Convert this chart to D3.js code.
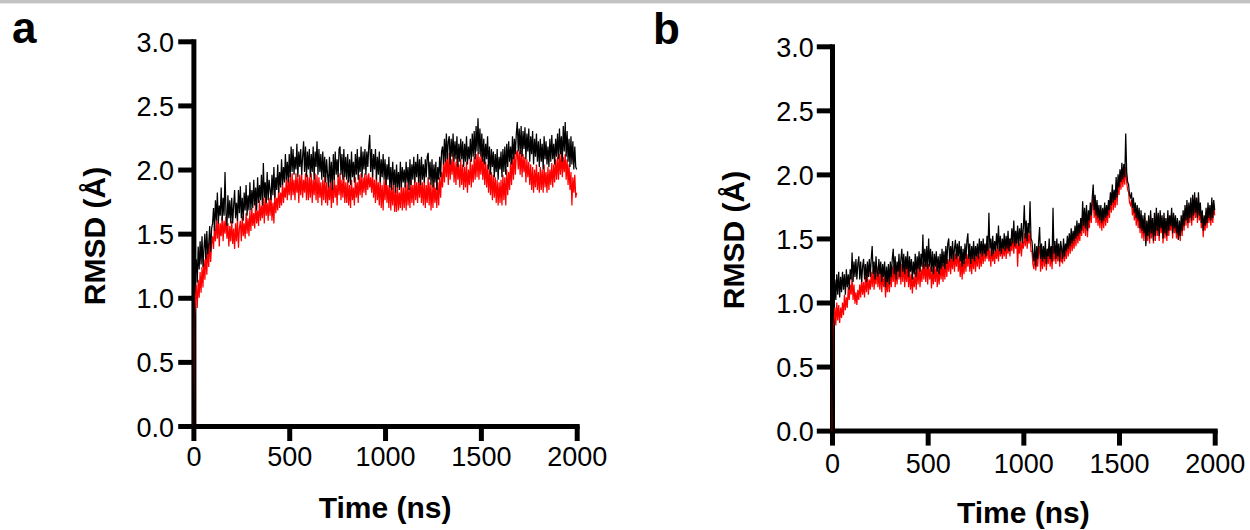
<!DOCTYPE html>
<html>
<head>
<meta charset="utf-8">
<script src="https://cdn.jsdelivr.net/npm/d3@7"></script>
<style>
  html, body { margin: 0; padding: 0; background: #fff; }
  svg { display: block; }
</style>
</head>
<body>
<div id="app"></div>
<script>
// one value every 5 ns, one row = 100 ns
const timeStepNs = 5;

const yTicks = [0.0, 0.5, 1.0, 1.5, 2.0, 2.5, 3.0];
const xTicks = [0, 500, 1000, 1500, 2000];

// panel a
const blackA = [
    0.00, 1.02, 1.18, 1.30, 1.12, 1.40, 1.22, 1.44, 1.26, 1.48, 1.24, 1.38, 1.50, 1.30, 1.52, 1.34, 1.42, 1.56, 1.36, 1.54,
    1.58, 1.70, 1.52, 1.76, 1.60, 1.82, 1.58, 1.72, 1.64, 1.86, 1.60, 1.78, 1.64, 1.98, 1.66, 1.56, 1.80, 1.62, 1.76, 1.58,
    1.78, 1.58, 1.72, 1.84, 1.62, 1.74, 1.60, 1.84, 1.66, 1.87, 1.62, 1.78, 1.60, 1.82, 1.68, 1.88, 1.64, 1.80, 1.68, 1.90,
    1.68, 1.84, 1.70, 1.92, 1.72, 1.86, 1.68, 1.94, 1.74, 1.88, 1.76, 1.96, 1.72, 2.05, 1.78, 1.90, 1.74, 1.98, 1.76, 1.92,
    1.84, 1.76, 1.96, 1.80, 2.02, 1.78, 1.94, 1.84, 2.04, 1.82, 1.98, 1.86, 2.08, 1.88, 2.02, 1.90, 2.12, 1.92, 2.06, 1.90,
    2.12, 1.94, 2.18, 1.98, 2.16, 1.96, 2.10, 2.00, 2.20, 1.94, 2.14, 2.02, 2.16, 1.96, 2.10, 2.22, 1.98, 2.18, 1.94, 2.14,
    2.00, 2.16, 1.94, 2.12, 1.98, 2.18, 1.92, 2.14, 2.02, 2.22, 1.96, 2.16, 1.98, 2.12, 1.92, 2.14, 1.94, 2.10, 1.90, 2.08,
    1.96, 1.86, 2.10, 1.90, 2.06, 1.84, 2.12, 1.92, 2.14, 1.96, 2.08, 1.94, 2.16, 2.18, 1.96, 2.12, 1.92, 2.16, 1.94, 2.10,
    1.92, 2.12, 1.90, 2.08, 1.88, 2.14, 1.94, 2.06, 1.90, 2.12, 1.96, 2.16, 1.92, 2.10, 1.98, 2.18, 1.94, 2.14, 2.00, 2.16,
    1.96, 2.14, 2.02, 2.18, 2.27, 1.98, 2.16, 1.94, 2.12, 2.00, 2.16, 1.92, 2.10, 1.96, 2.14, 1.90, 2.08, 1.94, 2.12, 1.92,
    2.08, 1.88, 2.04, 1.92, 2.10, 1.86, 2.02, 1.84, 2.06, 1.88, 2.00, 1.82, 2.04, 1.86, 1.98, 1.84, 2.06, 1.86, 2.02, 1.90,
    2.00, 1.86, 2.06, 1.90, 2.02, 1.84, 2.08, 1.88, 2.04, 1.92, 2.10, 1.90, 2.06, 1.94, 2.12, 1.90, 2.08, 1.88, 2.10, 1.92,
    2.04, 1.90, 2.08, 1.94, 2.10, 2.13, 1.92, 2.06, 1.88, 2.08, 1.86, 2.04, 1.90, 2.06, 1.84, 2.02, 1.92, 2.10, 1.94, 2.14,
    2.18, 2.04, 2.24, 2.06, 2.28, 2.08, 2.22, 2.26, 2.04, 2.24, 2.10, 2.28, 2.06, 2.22, 2.08, 2.26, 2.02, 2.20, 2.06, 2.24,
    2.08, 2.22, 2.02, 2.20, 2.06, 2.26, 2.04, 2.18, 2.08, 2.24, 2.06, 2.28, 2.10, 2.30, 2.08, 2.34, 2.14, 2.40, 2.12, 2.32,
    2.10, 2.28, 2.06, 2.24, 2.04, 2.20, 2.08, 2.26, 2.00, 2.18, 1.96, 2.16, 2.02, 2.14, 1.94, 2.12, 1.98, 2.16, 1.92, 2.10,
    2.00, 2.14, 1.94, 2.16, 1.98, 2.18, 1.96, 2.20, 2.02, 2.22, 2.06, 2.18, 2.04, 2.26, 2.08, 2.24, 2.12, 2.28, 2.37, 2.14,
    2.32, 2.12, 2.34, 2.10, 2.30, 2.16, 2.33, 2.08, 2.28, 2.14, 2.32, 2.06, 2.26, 2.12, 2.30, 2.04, 2.24, 2.10, 2.28, 2.06,
    2.22, 2.02, 2.24, 2.06, 2.20, 2.00, 2.26, 2.08, 2.22, 2.04, 2.18, 2.02, 2.24, 2.06, 2.27, 2.08, 2.20, 2.04, 2.24, 2.10,
    2.28, 2.08, 2.32, 2.12, 2.26, 2.06, 2.34, 2.14, 2.37, 2.10, 2.30, 2.06, 2.24, 2.02, 2.26, 2.04, 2.22, 2.00, 2.18, 2.02,
    2.00
];
const redA = [
    0.00, 0.84, 0.96, 1.10, 0.92, 1.14, 1.00, 1.20, 1.04, 1.24, 1.08, 1.30, 1.14, 1.36, 1.18, 1.40, 1.24, 1.44, 1.28, 1.42,
    1.48, 1.38, 1.56, 1.44, 1.60, 1.46, 1.62, 1.40, 1.58, 1.48, 1.63, 1.44, 1.60, 1.50, 1.63, 1.46, 1.58, 1.40, 1.56, 1.44,
    1.60, 1.42, 1.54, 1.38, 1.58, 1.44, 1.62, 1.39, 1.54, 1.60, 1.44, 1.64, 1.48, 1.58, 1.46, 1.66, 1.50, 1.62, 1.48, 1.68,
    1.52, 1.70, 1.56, 1.66, 1.54, 1.74, 1.58, 1.68, 1.56, 1.76, 1.60, 1.72, 1.62, 1.78, 1.58, 1.80, 1.64, 1.74, 1.60, 1.78,
    1.64, 1.80, 1.60, 1.74, 1.58, 1.82, 1.66, 1.78, 1.68, 1.86, 1.70, 1.82, 1.72, 1.90, 1.74, 1.86, 1.78, 1.94, 1.76, 1.92,
    1.80, 1.96, 1.76, 1.97, 1.80, 1.92, 1.76, 1.97, 1.82, 1.94, 1.74, 1.96, 1.80, 1.97, 1.78, 1.92, 1.82, 1.97, 1.76, 1.96,
    1.76, 1.94, 1.78, 1.97, 1.74, 1.92, 1.80, 1.97, 1.76, 1.96, 1.74, 1.94, 1.78, 1.90, 1.72, 1.92, 1.76, 1.96, 1.74, 1.90,
    1.72, 1.88, 1.76, 1.92, 1.70, 1.90, 1.74, 1.94, 1.78, 1.88, 1.72, 1.96, 1.80, 1.97, 1.76, 1.92, 1.78, 1.96, 1.74, 1.90,
    1.74, 1.92, 1.72, 1.88, 1.70, 1.92, 1.76, 1.86, 1.72, 1.94, 1.78, 1.90, 1.74, 1.96, 1.80, 1.97, 1.78, 1.94, 1.82, 1.97,
    1.80, 1.96, 1.84, 1.97, 1.86, 1.94, 1.82, 1.97, 1.78, 1.92, 1.74, 1.96, 1.76, 1.90, 1.72, 1.94, 1.70, 1.88, 1.68, 1.92,
    1.76, 1.94, 1.74, 1.88, 1.70, 1.92, 1.68, 1.86, 1.72, 1.90, 1.67, 1.84, 1.67, 1.88, 1.68, 1.82, 1.70, 1.90, 1.68, 1.86,
    1.70, 1.88, 1.68, 1.90, 1.72, 1.86, 1.70, 1.92, 1.74, 1.88, 1.72, 1.94, 1.76, 1.90, 1.74, 1.92, 1.78, 1.94, 1.74, 1.90,
    1.72, 1.92, 1.70, 1.88, 1.74, 1.94, 1.72, 1.90, 1.68, 1.88, 1.70, 1.92, 1.74, 1.86, 1.70, 1.90, 1.72, 1.94, 1.78, 1.98,
    1.86, 2.06, 1.90, 2.10, 1.94, 2.12, 1.88, 2.13, 1.92, 2.08, 1.96, 2.12, 1.90, 2.06, 1.88, 2.10, 1.92, 2.04, 1.86, 2.08,
    1.88, 2.04, 1.84, 2.02, 1.86, 2.06, 1.82, 2.00, 1.88, 2.08, 1.86, 2.04, 1.90, 2.10, 1.92, 2.12, 1.94, 2.14, 1.92, 2.10,
    1.96, 2.14, 1.92, 2.08, 1.88, 2.06, 1.86, 2.04, 1.82, 2.00, 1.80, 1.98, 1.76, 1.96, 1.78, 1.94, 1.74, 1.92, 1.72, 1.90,
    1.74, 1.92, 1.72, 1.96, 1.76, 1.94, 1.72, 2.00, 1.80, 1.98, 1.84, 2.06, 1.88, 2.10, 1.92, 2.14, 1.96, 2.12, 2.15, 2.00,
    2.14, 1.96, 2.15, 1.94, 2.12, 1.98, 2.10, 1.90, 2.08, 1.94, 2.06, 1.88, 2.04, 1.84, 2.02, 1.82, 2.00, 1.86, 2.04, 1.84,
    1.98, 1.82, 2.02, 1.84, 2.00, 1.82, 2.04, 1.86, 1.98, 1.82, 2.02, 1.84, 2.00, 1.88, 2.05, 1.86, 2.04, 1.90, 2.08, 1.92,
    2.10, 1.92, 2.12, 1.96, 2.14, 1.94, 2.10, 1.98, 2.12, 1.92, 2.08, 1.88, 2.04, 1.84, 1.98, 1.72, 1.94, 1.82, 1.96, 1.78,
    1.82
];

// panel b
const blackB = [
    0.00, 0.96, 1.06, 1.18, 1.02, 1.22, 1.06, 1.24, 1.04, 1.20, 1.08, 1.24, 1.10, 1.22, 1.06, 1.26, 1.12, 1.22, 1.10, 1.26,
    1.18, 1.39, 1.16, 1.32, 1.20, 1.34, 1.18, 1.30, 1.36, 1.18, 1.32, 1.16, 1.28, 1.34, 1.18, 1.30, 1.16, 1.32, 1.20, 1.34,
    1.20, 1.34, 1.44, 1.22, 1.32, 1.18, 1.36, 1.24, 1.20, 1.34, 1.22, 1.32, 1.16, 1.30, 1.20, 1.32, 1.12, 1.28, 1.16, 1.30,
    1.14, 1.32, 1.20, 1.34, 1.42, 1.22, 1.36, 1.18, 1.32, 1.24, 1.38, 1.20, 1.34, 1.42, 1.24, 1.38, 1.22, 1.36, 1.26, 1.40,
    1.20, 1.36, 1.24, 1.34, 1.18, 1.32, 1.22, 1.38, 1.20, 1.36, 1.26, 1.40, 1.24, 1.38, 1.28, 1.53, 1.26, 1.42, 1.28, 1.44,
    1.26, 1.50, 1.28, 1.42, 1.24, 1.40, 1.22, 1.38, 1.28, 1.40, 1.24, 1.36, 1.22, 1.38, 1.26, 1.42, 1.28, 1.40, 1.26, 1.44,
    1.30, 1.46, 1.50, 1.32, 1.44, 1.34, 1.48, 1.32, 1.42, 1.49, 1.34, 1.46, 1.36, 1.48, 1.32, 1.44, 1.28, 1.42, 1.30, 1.46,
    1.34, 1.48, 1.54, 1.34, 1.46, 1.30, 1.44, 1.34, 1.48, 1.32, 1.44, 1.36, 1.46, 1.34, 1.50, 1.38, 1.48, 1.36, 1.50, 1.38,
    1.46, 1.36, 1.52, 1.40, 1.70, 1.42, 1.50, 1.36, 1.52, 1.38, 1.48, 1.40, 1.54, 1.42, 1.60, 1.40, 1.52, 1.38, 1.50, 1.42,
    1.54, 1.40, 1.52, 1.42, 1.56, 1.40, 1.50, 1.44, 1.58, 1.46, 1.64, 1.44, 1.56, 1.46, 1.60, 1.44, 1.58, 1.48, 1.62, 1.46,
    1.58, 1.76, 1.50, 1.64, 1.48, 1.62, 1.54, 1.79, 1.50, 1.48, 1.38, 1.32, 1.46, 1.28, 1.44, 1.34, 1.48, 1.59, 1.34, 1.46,
    1.32, 1.44, 1.34, 1.48, 1.30, 1.42, 1.36, 1.50, 1.34, 1.44, 1.32, 1.74, 1.38, 1.48, 1.34, 1.50, 1.36, 1.46, 1.32, 1.48,
    1.42, 1.34, 1.50, 1.36, 1.46, 1.40, 1.52, 1.42, 1.54, 1.44, 1.58, 1.46, 1.56, 1.48, 1.60, 1.50, 1.64, 1.52, 1.62, 1.54,
    1.66, 1.56, 1.79, 1.60, 1.74, 1.58, 1.76, 1.56, 1.72, 1.64, 1.78, 1.68, 1.82, 1.92, 1.72, 1.84, 1.68, 1.80, 1.66, 1.76,
    1.64, 1.76, 1.62, 1.74, 1.64, 1.78, 1.66, 1.76, 1.68, 1.80, 1.72, 1.86, 1.76, 1.92, 1.78, 1.88, 1.80, 1.98, 1.82, 2.00,
    1.90, 2.04, 1.94, 2.09, 1.96, 2.08, 1.98, 2.32, 2.02, 1.94, 1.92, 1.84, 1.82, 1.86, 1.74, 1.82, 1.70, 1.78, 1.66, 1.76,
    1.64, 1.74, 1.58, 1.72, 1.56, 1.68, 1.54, 1.70, 1.44, 1.64, 1.52, 1.68, 1.50, 1.72, 1.54, 1.66, 1.48, 1.70, 1.52, 1.74,
    1.56, 1.70, 1.52, 1.72, 1.58, 1.68, 1.50, 1.70, 1.54, 1.66, 1.52, 1.72, 1.56, 1.68, 1.60, 1.74, 1.54, 1.70, 1.58, 1.68,
    1.54, 1.66, 1.49, 1.64, 1.52, 1.68, 1.56, 1.72, 1.60, 1.76, 1.64, 1.80, 1.62, 1.78, 1.66, 1.82, 1.64, 1.84, 1.68, 1.86,
    1.70, 1.82, 1.66, 1.86, 1.68, 1.78, 1.62, 1.72, 1.56, 1.68, 1.60, 1.74, 1.62, 1.78, 1.66, 1.76, 1.64, 1.82, 1.66, 1.80,
    1.72
];
const redB = [
    0.00, 0.78, 0.86, 0.96, 0.82, 1.00, 0.86, 0.98, 0.84, 0.96, 0.88, 1.00, 0.90, 1.06, 0.94, 1.04, 0.96, 1.12, 1.02, 1.14,
    1.06, 1.20, 1.02, 1.14, 0.99, 1.08, 0.98, 1.10, 1.02, 1.14, 1.04, 1.18, 1.06, 1.16, 1.04, 1.20, 1.08, 1.22, 1.06, 1.18,
    1.10, 1.24, 1.12, 1.26, 1.10, 1.22, 1.14, 1.28, 1.12, 1.24, 1.10, 1.26, 1.08, 1.22, 1.12, 1.20, 1.04, 1.18, 1.08, 1.22,
    1.08, 1.24, 1.12, 1.28, 1.16, 1.30, 1.12, 1.26, 1.14, 1.28, 1.18, 1.32, 1.14, 1.30, 1.16, 1.32, 1.12, 1.28, 1.16, 1.30,
    1.12, 1.26, 1.10, 1.22, 1.07, 1.20, 1.12, 1.24, 1.10, 1.28, 1.14, 1.30, 1.12, 1.26, 1.16, 1.32, 1.18, 1.30, 1.16, 1.32,
    1.14, 1.30, 1.18, 1.28, 1.11, 1.26, 1.14, 1.28, 1.16, 1.30, 1.12, 1.26, 1.14, 1.30, 1.18, 1.32, 1.16, 1.30, 1.18, 1.34,
    1.20, 1.34, 1.24, 1.38, 1.22, 1.36, 1.26, 1.40, 1.24, 1.38, 1.28, 1.40, 1.24, 1.36, 1.20, 1.34, 1.18, 1.32, 1.22, 1.36,
    1.24, 1.38, 1.28, 1.40, 1.24, 1.36, 1.22, 1.38, 1.26, 1.40, 1.24, 1.38, 1.28, 1.42, 1.26, 1.40, 1.28, 1.42, 1.30, 1.44,
    1.32, 1.44, 1.34, 1.46, 1.32, 1.42, 1.28, 1.44, 1.32, 1.40, 1.30, 1.42, 1.34, 1.44, 1.32, 1.46, 1.36, 1.46, 1.34, 1.44,
    1.36, 1.48, 1.34, 1.46, 1.38, 1.50, 1.36, 1.48, 1.40, 1.52, 1.38, 1.50, 1.42, 1.52, 1.28, 1.48, 1.38, 1.50, 1.36, 1.48,
    1.42, 1.54, 1.44, 1.56, 1.42, 1.54, 1.46, 1.56, 1.40, 1.40, 1.30, 1.26, 1.38, 1.25, 1.36, 1.28, 1.40, 1.44, 1.24, 1.38,
    1.26, 1.40, 1.28, 1.42, 1.25, 1.38, 1.30, 1.44, 1.28, 1.40, 1.26, 1.44, 1.32, 1.42, 1.30, 1.46, 1.32, 1.42, 1.28, 1.44,
    1.32, 1.31, 1.44, 1.32, 1.42, 1.34, 1.48, 1.36, 1.50, 1.38, 1.52, 1.40, 1.50, 1.42, 1.54, 1.44, 1.58, 1.46, 1.56, 1.48,
    1.60, 1.52, 1.70, 1.54, 1.68, 1.52, 1.70, 1.51, 1.66, 1.58, 1.72, 1.62, 1.76, 1.84, 1.66, 1.78, 1.62, 1.74, 1.60, 1.70,
    1.58, 1.72, 1.56, 1.70, 1.58, 1.74, 1.60, 1.72, 1.62, 1.76, 1.66, 1.82, 1.70, 1.88, 1.72, 1.84, 1.74, 1.92, 1.76, 1.94,
    1.84, 1.98, 1.88, 2.04, 1.90, 2.02, 1.92, 2.06, 1.94, 1.88, 1.86, 1.78, 1.76, 1.80, 1.68, 1.76, 1.64, 1.74, 1.60, 1.72,
    1.58, 1.70, 1.54, 1.68, 1.50, 1.64, 1.48, 1.66, 1.46, 1.60, 1.48, 1.64, 1.46, 1.68, 1.50, 1.62, 1.46, 1.66, 1.48, 1.70,
    1.52, 1.66, 1.48, 1.68, 1.54, 1.64, 1.46, 1.66, 1.50, 1.62, 1.48, 1.68, 1.52, 1.64, 1.56, 1.70, 1.50, 1.66, 1.54, 1.64,
    1.50, 1.62, 1.49, 1.60, 1.48, 1.64, 1.52, 1.68, 1.56, 1.72, 1.60, 1.76, 1.58, 1.74, 1.62, 1.78, 1.60, 1.80, 1.64, 1.82,
    1.66, 1.78, 1.62, 1.82, 1.64, 1.74, 1.58, 1.68, 1.51, 1.64, 1.56, 1.70, 1.58, 1.74, 1.62, 1.72, 1.60, 1.78, 1.62, 1.76,
    1.68
];

const FONT = '"Liberation Sans", Arial, Helvetica, sans-serif';
const AXIS_W = 5;
const TRACE_W = 1.25;

const panels = [
    {
        label: 'a', black: blackA, red: redA,
        left: 193.4, right: 576.7, bottom: 426.0, top: 41.3,
        labelX: 12, labelY: 43,
        yTitleX: 105, yTitleY: 236, xTitleY: 518,
        xPad: 5.7, yPad: 4.2
    },
    {
        label: 'b', black: blackB, red: redB,
        left: 832.0, right: 1214.7, bottom: 430.6, top: 46.3,
        labelX: 653, labelY: 44,
        yTitleX: 744, yTitleY: 240, xTitleY: 523,
        xPad: 8.3, yPad: 3.0
    }
];

const svg = d3.select('#app')
    .append('svg')
    .attr('width', 1250)
    .attr('height', 530)
    .style('font-family', FONT);

svg.append('rect')
    .attr('width', 1250)
    .attr('height', 530)
    .attr('fill', '#fff');

// grey rule along the top edge
svg.append('rect')
    .attr('x', 0)
    .attr('y', 0)
    .attr('width', 1250)
    .attr('height', 3.4)
    .attr('fill', '#c3c3c3');

function styleAxis(g) {
    g.attr('font-family', FONT)
        .attr('font-size', 27);
    g.select('.domain')
        .attr('stroke', '#000')
        .attr('stroke-width', AXIS_W)
        .attr('stroke-linecap', 'square');
    g.selectAll('.tick line')
        .attr('stroke', '#000')
        .attr('stroke-width', AXIS_W);
    g.selectAll('.tick text')
        .attr('fill', '#000');
}

function drawPanel(p) {
    const x = d3.scaleLinear()
        .domain([0, 2000])
        .range([p.left, p.right]);

    const y = d3.scaleLinear()
        .domain([0, 3])
        .range([p.bottom, p.top]);

    const xAxis = svg.append('g')
        .attr('transform', `translate(0,${p.bottom})`)
        .call(d3.axisBottom(x)
            .tickValues(xTicks)
            .tickFormat(d3.format('d'))
            .tickSizeInner(15)
            .tickSizeOuter(0)
            .tickPadding(p.xPad));
    styleAxis(xAxis);

    const yAxis = svg.append('g')
        .attr('transform', `translate(${p.left},0)`)
        .call(d3.axisLeft(y)
            .tickValues(yTicks)
            .tickFormat(d3.format('.1f'))
            .tickSizeInner(15.2)
            .tickSizeOuter(0)
            .tickPadding(p.yPad));
    styleAxis(yAxis);
    yAxis.selectAll('.tick text').attr('dy', '0.37em');

    const line = d3.line()
        .x((d, i) => x(i * timeStepNs))
        .y(d => y(d));

    // red trace underneath, black on top
    svg.append('path')
        .datum(p.red)
        .attr('fill', 'none')
        .attr('stroke', '#ff0000')
        .attr('stroke-width', TRACE_W)
        .attr('d', line);

    svg.append('path')
        .datum(p.black)
        .attr('fill', 'none')
        .attr('stroke', '#000')
        .attr('stroke-width', TRACE_W)
        .attr('d', line);

    svg.append('text')
        .attr('x', (p.left + p.right) / 2)
        .attr('y', p.xTitleY)
        .attr('text-anchor', 'middle')
        .attr('font-size', 30)
        .attr('font-weight', 'bold')
        .text('Time (ns)');

    svg.append('text')
        .attr('transform', `translate(${p.yTitleX},${p.yTitleY}) rotate(-90)`)
        .attr('text-anchor', 'middle')
        .attr('font-size', 30)
        .attr('font-weight', 'bold')
        .text('RMSD (Å)');

    svg.append('text')
        .attr('x', p.labelX)
        .attr('y', p.labelY)
        .attr('font-size', 44)
        .attr('font-weight', 'bold')
        .text(p.label);
}

panels.forEach(drawPanel);
</script>
</body>
</html>
